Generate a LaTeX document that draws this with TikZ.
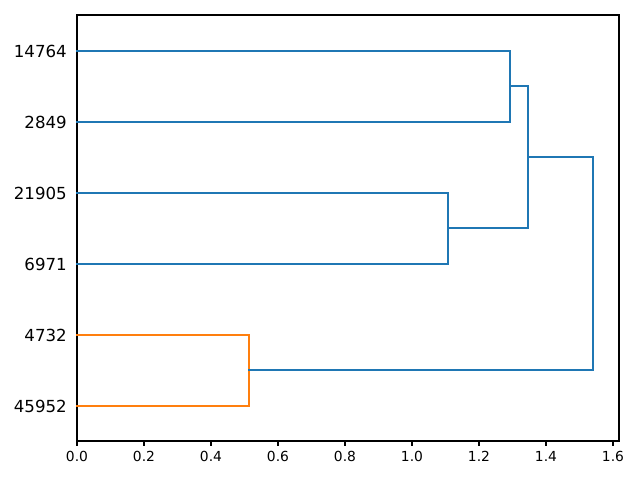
\documentclass[tikz,border=0pt]{standalone}
\usepackage{fontspec}
\setmainfont{DejaVu Sans}
\usetikzlibrary{positioning}
\definecolor{tabblue}{RGB}{31,119,180}
\definecolor{taborange}{RGB}{255,127,14}
\tikzset{
  link/.style={draw=#1,line width=1.5pt,line cap=rect},
  link/.default=tabblue,
  spine/.style={draw=black,line width=0.8pt},
  leaflabel/.style={anchor=east,inner sep=0pt,font=\fontsize{12}{14}\selectfont},
  ticklabel/.style={anchor=north,inner sep=0pt,font=\fontsize{10}{12}\selectfont},
}
\begin{document}
\begin{tikzpicture}[x=0.01in,y=-0.01in]
  \useasboundingbox[fill=white] (0,0) rectangle (640,480);
  % axes frame
  \draw[spine] (77,15) rectangle (619,441);
  % x ticks
  \foreach \t [count=\i] in {0.0,0.2,0.4,0.6,0.8,1.0,1.2,1.4,1.6}{
    \pgfmathsetmacro{\px}{77+335*\t}
    \draw[spine] (\px,441) -- ++(0,4.86) coordinate (tk\i);
    \node[ticklabel] (tl\i) at ([yshift=-3.5pt]tk\i) {\t};
  }
  % leaves
  \foreach \name/\y in {14764/51,2849/122,21905/193,6971/264,4732/335,45952/406}{
    \coordinate (l\name) at (77,\y);
    \node[leaflabel] (lab\name) at (67,\y) {\name};
  }
  % merge points (height in data units)
  \begin{scope}[shift={(77,0)},x=3.35in]
    \coordinate (mA) at (1.2925,86);
    \coordinate (mB) at (1.107,228);
    \coordinate (mC) at (0.513,370);
    \coordinate (mD) at (1.346,157);
    \coordinate (mE) at (1.540,264);
  \end{scope}
  % links
  \draw[link] (l14764) -| (mA) |- (l2849);
  \draw[link] (l21905) -| (mB) |- (l6971);
  \draw[link=taborange] (l4732) -| (mC) |- (l45952);
  \draw[link] (mA) -| (mD) |- (mB);
  \draw[link] (mD) -| (mE) |- (mC);
\end{tikzpicture}
\end{document}
